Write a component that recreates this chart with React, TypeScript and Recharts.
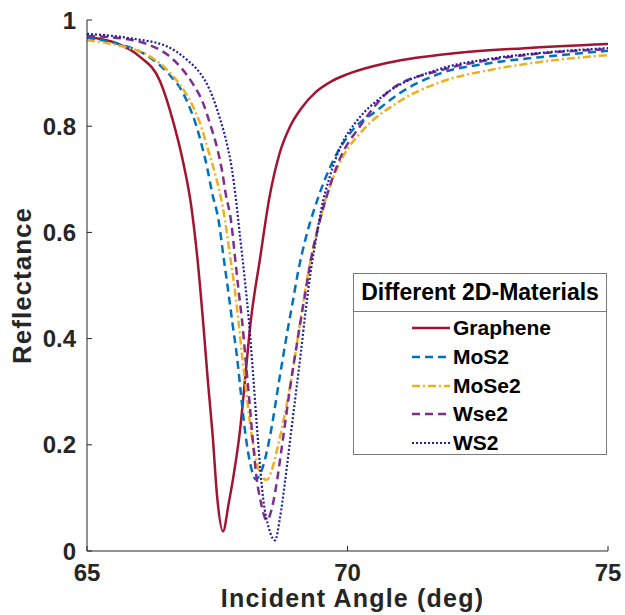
import React from 'react';
import { LineChart, Line, XAxis, YAxis, Legend } from 'recharts';

const xTicks = [65, 70, 75];
const yTicks = [0, 0.2, 0.4, 0.6, 0.8, 1];

const grapheneAngle = [65.0, 65.6, 66.0, 66.4, 66.65, 66.85, 67.0, 67.12, 67.23, 67.32, 67.41, 67.5, 67.61, 67.72, 67.81, 67.94, 68.04, 68.14, 68.32, 68.5, 68.7, 68.9, 69.1, 69.4, 69.7, 70.0, 70.8, 72.1, 73.4, 75.0];
const grapheneR = [0.968, 0.955, 0.932, 0.885, 0.81, 0.73, 0.65, 0.55, 0.43, 0.32, 0.22, 0.1, 0.037, 0.09, 0.14, 0.23, 0.33, 0.43, 0.55, 0.665, 0.75, 0.8, 0.832, 0.865, 0.885, 0.898, 0.92, 0.938, 0.947, 0.955];

const mos2Angle = [65.0, 65.6, 66.2, 66.6, 66.8, 66.95, 67.1, 67.2, 67.3, 67.4, 67.53, 67.62, 67.71, 67.79, 67.88, 67.95, 68.03, 68.13, 68.24, 68.38, 68.51, 68.7, 68.84, 68.95, 69.05, 69.2, 69.4, 69.7, 70.05, 70.57, 71.0, 71.8, 72.75, 73.7, 75.0];
const mos2R = [0.966, 0.955, 0.93, 0.895, 0.87, 0.84, 0.8, 0.765, 0.725, 0.675, 0.62, 0.554, 0.49, 0.43, 0.365, 0.3, 0.228, 0.166, 0.135, 0.16, 0.215, 0.328, 0.41, 0.47, 0.525, 0.59, 0.655, 0.73, 0.787, 0.83, 0.862, 0.9, 0.919, 0.93, 0.942];

const mose2Angle = [65.0, 65.6, 66.2, 66.55, 66.8, 67.03, 67.2, 67.32, 67.46, 67.56, 67.65, 67.74, 67.84, 67.91, 67.98, 68.04, 68.15, 68.26, 68.36, 68.45, 68.57, 68.67, 68.76, 68.95, 69.09, 69.22, 69.47, 69.66, 69.91, 70.3, 70.95, 71.78, 72.74, 73.7, 75.0];
const mose2R = [0.962, 0.952, 0.932, 0.905, 0.876, 0.838, 0.797, 0.757, 0.71, 0.67, 0.622, 0.56, 0.49, 0.43, 0.365, 0.315, 0.225, 0.166, 0.14, 0.134, 0.16, 0.2, 0.24, 0.34, 0.43, 0.51, 0.623, 0.686, 0.742, 0.793, 0.844, 0.883, 0.906, 0.921, 0.934];

const wse2Angle = [65.0, 65.88, 66.27, 66.54, 66.79, 67.03, 67.23, 67.36, 67.5, 67.59, 67.66, 67.77, 67.84, 67.91, 67.98, 68.04, 68.11, 68.19, 68.26, 68.33, 68.45, 68.56, 68.65, 68.74, 68.9, 69.05, 69.18, 69.3, 69.45, 69.6, 69.86, 70.24, 70.82, 71.78, 72.74, 73.7, 75.0];
const wse2R = [0.97, 0.962, 0.95, 0.935, 0.912, 0.88, 0.843, 0.805, 0.758, 0.717, 0.674, 0.618, 0.554, 0.49, 0.43, 0.365, 0.29, 0.2, 0.134, 0.095, 0.058, 0.085, 0.134, 0.196, 0.309, 0.403, 0.48, 0.55, 0.615, 0.668, 0.74, 0.8, 0.868, 0.905, 0.925, 0.937, 0.945];

const ws2Angle = [65.0, 65.8, 66.54, 66.92, 67.17, 67.3, 67.42, 67.55, 67.69, 67.78, 67.85, 67.94, 68.03, 68.11, 68.19, 68.28, 68.38, 68.5, 68.61, 68.7, 68.8, 68.9, 69.0, 69.1, 69.2, 69.3, 69.4, 69.5, 69.66, 69.86, 70.18, 70.68, 71.78, 72.74, 73.7, 75.0];
const ws2R = [0.974, 0.966, 0.95, 0.925, 0.9, 0.88, 0.853, 0.815, 0.765, 0.72, 0.67, 0.59, 0.51, 0.43, 0.33, 0.21, 0.1, 0.04, 0.02, 0.06, 0.13, 0.21, 0.29, 0.37, 0.455, 0.53, 0.59, 0.645, 0.705, 0.76, 0.81, 0.857, 0.908, 0.927, 0.938, 0.947];

const toPoints = (xs: number[], ys: number[]) => xs.map((x, i) => ({ x, y: ys[i] }));

const series = [
  { name: 'Graphene', color: '#A2142F', dash: undefined as string | undefined, width: 2.5, data: toPoints(grapheneAngle, grapheneR) },
  { name: 'MoS2', color: '#0072BD', dash: '8 5', width: 2.5, data: toPoints(mos2Angle, mos2R) },
  { name: 'MoSe2', color: '#EDB120', dash: '8 3 2 3', width: 2.5, data: toPoints(mose2Angle, mose2R) },
  { name: 'Wse2', color: '#7E2F8E', dash: '8 5', width: 2.5, data: toPoints(wse2Angle, wse2R) },
  { name: 'WS2', color: '#1f1fa0', dash: '2 2', width: 2.2, data: toPoints(ws2Angle, ws2R) },
];

const FONT = '"Liberation Sans", Arial, Helvetica, sans-serif';
const AXIS = '#262626';

const XTitle = (props: any) => {
  const vb = props.viewBox || {};
  const cx = vb.x + vb.width / 2 + 5;
  return (
    <text x={cx} y={607} textAnchor="middle" fontFamily={FONT} fontWeight={700} fontSize={25} letterSpacing={1.2} fill={AXIS}>
      Incident Angle (deg)
    </text>
  );
};

const YTitle = (props: any) => {
  const vb = props.viewBox || {};
  const cy = vb.y + vb.height / 2;
  const x = 31;
  return (
    <text x={x} y={cy} transform={`rotate(-90, ${x}, ${cy})`} textAnchor="middle" fontFamily={FONT} fontWeight={700} fontSize={26} letterSpacing={1} fill={AXIS}>
      Reflectance
    </text>
  );
};

const LegendBox = () => (
  <div style={{ width: 254, height: 182, boxSizing: 'border-box', border: '1px solid #7a7a7a', background: '#fff', fontFamily: FONT, fontWeight: 700, color: '#000' }}>
    <div style={{ height: 37, borderBottom: '1px solid #7a7a7a', fontSize: 23, lineHeight: '37px', textAlign: 'center', whiteSpace: 'nowrap' }}>
      Different 2D-Materials
    </div>
    <div style={{ paddingTop: 2 }}>
      {series.map((s) => (
        <div key={s.name} style={{ height: 28.7, display: 'flex', alignItems: 'center', paddingLeft: 58 }}>
          <svg width={38} height={10} style={{ display: 'block' }}>
            <line x1={0} y1={5} x2={38} y2={5} stroke={s.color} strokeWidth={s.width} strokeDasharray={s.dash} />
          </svg>
          <span style={{ fontSize: 21, marginLeft: 3, lineHeight: '24px' }}>{s.name}</span>
        </div>
      ))}
    </div>
  </div>
);

export default function App() {
  return (
    <div style={{ position: 'absolute', left: 0, top: 0, background: '#fff' }}>
      <LineChart width={625} height={615} margin={{ top: 20, right: 17, left: 0, bottom: 0 }}>
        <XAxis
          type="number"
          dataKey="x"
          domain={[65, 75]}
          ticks={xTicks}
          interval={0}
          allowDataOverflow
          height={64}
          tickSize={-5}
          tickMargin={18}
          axisLine={{ stroke: AXIS, strokeWidth: 1 }}
          tickLine={{ stroke: AXIS, strokeWidth: 1 }}
          tick={{ fill: AXIS, fontSize: 24, fontWeight: 700, fontFamily: FONT }}
          label={<XTitle />}
        />
        <YAxis
          type="number"
          dataKey="y"
          domain={[0, 1]}
          ticks={yTicks}
          interval={0}
          allowDataOverflow
          width={87}
          tickSize={-5}
          tickMargin={16}
          tickFormatter={(v: number) => String(v)}
          axisLine={{ stroke: AXIS, strokeWidth: 1 }}
          tickLine={{ stroke: AXIS, strokeWidth: 1 }}
          tick={{ fill: AXIS, fontSize: 24, fontWeight: 700, fontFamily: FONT }}
          label={<YTitle />}
        />
        {series.map((s) => (
          <Line
            key={s.name}
            data={s.data}
            dataKey="y"
            name={s.name}
            type="monotone"
            stroke={s.color}
            strokeWidth={s.width}
            strokeDasharray={s.dash}
            dot={false}
            activeDot={false}
            isAnimationActive={false}
          />
        ))}
        <Legend
          layout="vertical"
          align="center"
          verticalAlign="middle"
          wrapperStyle={{ position: 'absolute', left: 353, top: 273, width: 254 }}
          content={() => <LegendBox />}
        />
      </LineChart>
    </div>
  );
}
